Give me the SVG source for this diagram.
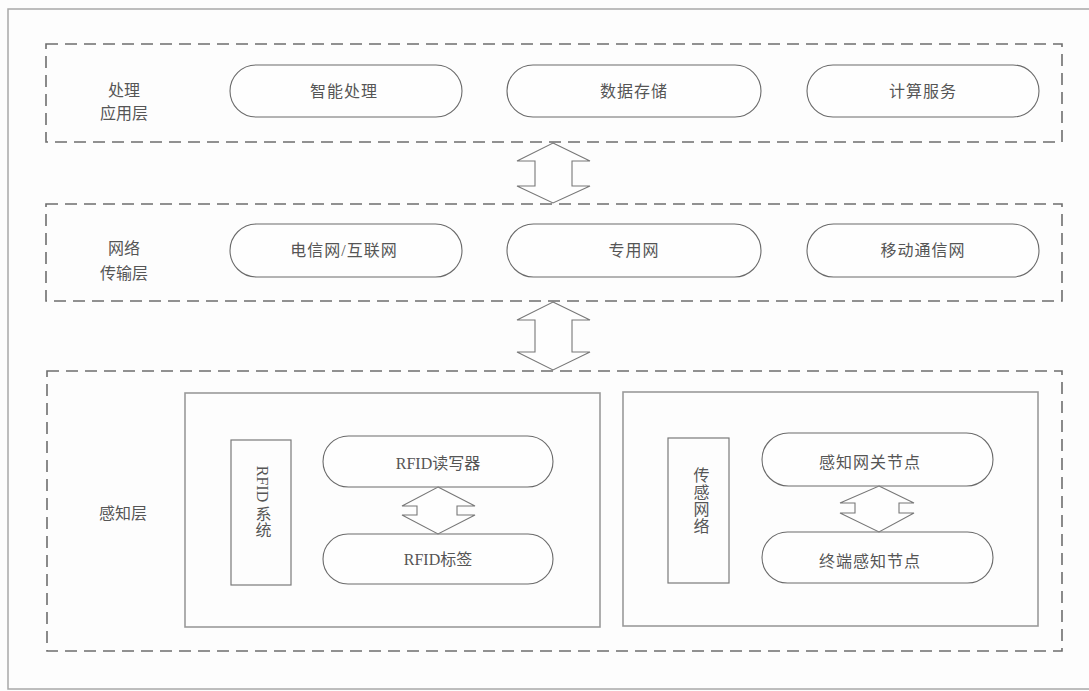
<svg xmlns="http://www.w3.org/2000/svg" width="1089" height="691" viewBox="0 0 1089 691">
<style>
.bg{fill:#fdfdfd}
.frame{fill:none;stroke:#a8a8a8;stroke-width:1.5}
.layer{fill:none;stroke:#6e6e6e;stroke-width:1.6;stroke-dasharray:12 7}
.pill{fill:#fefefe;stroke:#6a6a6a;stroke-width:1.1}
.box{fill:none;stroke:#9a9a9a;stroke-width:1.6}
.vbox{fill:none;stroke:#7a7a7a;stroke-width:1.2}
.arrow{fill:#fefefe;stroke:#777;stroke-width:1.1;stroke-linejoin:miter}
text{font-family:"Liberation Serif","Noto Sans CJK SC",serif;font-size:16px;fill:#555;text-anchor:middle;dominant-baseline:central}
.pt{letter-spacing:1px}
.vt{writing-mode:vertical-rl}
</style>
<rect class="bg" x="0" y="0" width="1089" height="691"/>
<rect class="frame" x="8" y="9" width="1100" height="680"/>

<g id="layer-app">
<rect class="layer" x="46" y="44" width="1016" height="98"/>
<text x="124" y="90">处理</text>
<text x="124" y="113">应用层</text>
</g>
<g id="node-intelligent"><rect class="pill" x="230" y="65" width="232" height="52" rx="26"/><text class="pt" x="344" y="91">智能处理</text></g>
<g id="node-storage"><rect class="pill" x="507" y="65" width="254" height="52" rx="26"/><text class="pt" x="634" y="91">数据存储</text></g>
<g id="node-compute"><rect class="pill" x="807" y="65" width="232" height="52" rx="26"/><text class="pt" x="923" y="91">计算服务</text></g>

<g id="layer-net">
<rect class="layer" x="46" y="204" width="1016" height="97"/>
<text x="124" y="248">网络</text>
<text x="124" y="273">传输层</text>
</g>
<g id="node-telecom"><rect class="pill" x="230" y="224" width="232" height="53" rx="26.5"/><text class="pt" x="344" y="250">电信网/互联网</text></g>
<g id="node-private"><rect class="pill" x="507" y="224" width="254" height="53" rx="26.5"/><text class="pt" x="634" y="250">专用网</text></g>
<g id="node-mobile"><rect class="pill" x="807" y="224" width="232" height="53" rx="26.5"/><text class="pt" x="923" y="250">移动通信网</text></g>

<g id="layer-sense">
<rect class="layer" x="47" y="371" width="1015" height="280"/>
<text x="123" y="513">感知层</text>
</g>

<g id="rfid-system">
<rect class="box" x="185" y="393" width="415" height="234"/>
<rect class="vbox" x="231" y="440" width="60" height="145"/>
<text class="vt" x="262" y="502">RFID 系统</text>
</g>
<g id="node-reader"><rect class="pill" x="323" y="436" width="230" height="51" rx="25.5"/><text x="438" y="463">RFID读写器</text></g>
<g id="node-tag"><rect class="pill" x="323" y="534" width="230" height="50" rx="25"/><text x="438" y="559">RFID标签</text></g>

<g id="sensor-network">
<rect class="box" x="623" y="392" width="415" height="234"/>
<rect class="vbox" x="668" y="438" width="61" height="145"/>
<text class="vt" x="700" y="501" style="letter-spacing:1px">传感网络</text>
</g>
<g id="node-gateway"><rect class="pill" x="762" y="433" width="231" height="53" rx="26.5"/><text class="pt" x="870" y="462">感知网关节点</text></g>
<g id="node-terminal"><rect class="pill" x="762" y="532" width="231" height="51" rx="25.5"/><text class="pt" x="870" y="561">终端感知节点</text></g>

<g id="connectors">
<polygon class="arrow" points="553,143 590,161 572,161 572,186 590,186 553,203 517,186 535,186 535,161 517,161"/>
<polygon class="arrow" points="553,302 590,320 572,320 572,352 590,352 553,370 517,352 535,352 535,320 517,320"/>
<polygon class="arrow" points="438,487 475,506 457,506 457,515 475,515 438,534 402,515 417,515 417,506 402,506"/>
<polygon class="arrow" points="879,486 914,503 899,503 899,513 914,513 879,532 840,513 855,513 855,503 840,503"/>
</g>
</svg>
